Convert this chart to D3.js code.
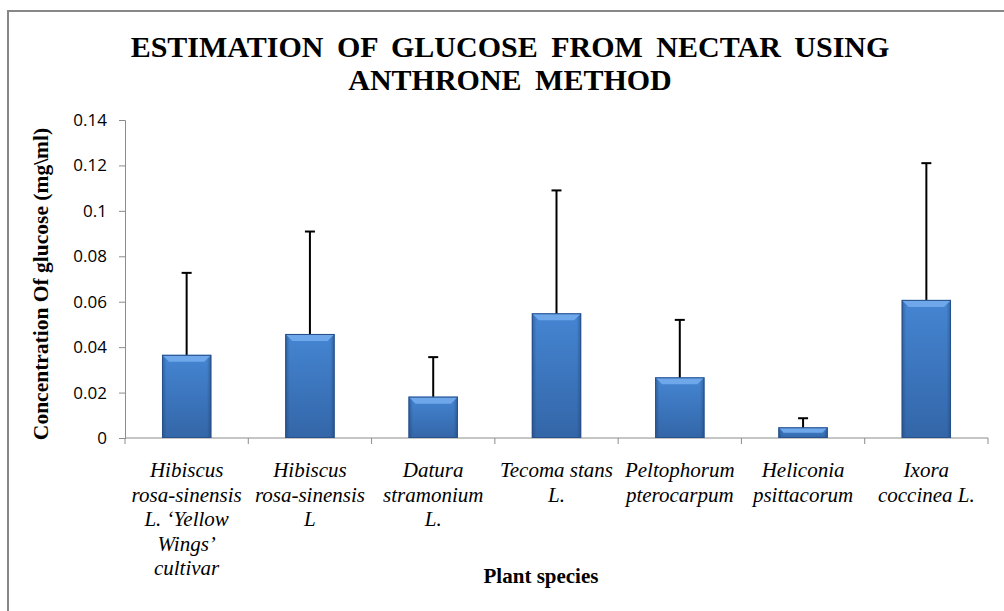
<!DOCTYPE html>
<html>
<head>
<meta charset="utf-8">
<script src="https://cdn.jsdelivr.net/npm/d3@7"></script>
<style>
  body { margin: 0; background: #fff; }
  svg { display: block; }
  .serif { font-family: "Liberation Serif", "DejaVu Serif", "Times New Roman", Times, serif; }
</style>
</head>
<body>
<svg id="chart"></svg>
<script>
// Plant species (category labels, one array entry per line)
const species = [
  ['Hibiscus', 'rosa-sinensis', 'L. \u2018Yellow', 'Wings\u2019', 'cultivar'],
  ['Hibiscus', 'rosa-sinensis', 'L'],
  ['Datura', 'stramonium', 'L.'],
  ['Tecoma stans', 'L.'],
  ['Peltophorum', 'pterocarpum'],
  ['Heliconia', 'psittacorum'],
  ['Ixora', 'coccinea L.']
];
// mean glucose concentration (mg/ml)
const glucose = [0.0366, 0.0458, 0.0182, 0.0549, 0.0267, 0.0047, 0.0608];
// standard deviation (upper error bar only)
const sd = [0.0361, 0.0451, 0.0174, 0.0541, 0.0253, 0.0040, 0.0602];
const yTicks = [0, 0.02, 0.04, 0.06, 0.08, 0.1, 0.12, 0.14];

const width = 1004, height = 611;
const margin = {top: 120, right: 16, bottom: 173, left: 125};
const w = width - margin.left - margin.right;
const h = height - margin.top - margin.bottom;

const svg = d3.select('#chart')
    .attr('width', width)
    .attr('height', height);

// outer chart-area frame (runs off the right and bottom edges)
svg.append('path')
    .attr('d', `M8,${height + 5} V11 H${width + 5}`)
    .attr('fill', 'none')
    .attr('stroke', '#878787')
    .attr('stroke-width', 2);

// bar gradient
const defs = svg.append('defs');
const grad = defs.append('linearGradient')
    .attr('id', 'barGrad').attr('x1', 0).attr('y1', 0).attr('x2', 0).attr('y2', 1);
grad.append('stop').attr('offset', '0%').attr('stop-color', '#4585d2');
grad.append('stop').attr('offset', '100%').attr('stop-color', '#3366a8');
const side = defs.append('linearGradient')
    .attr('id', 'sideGrad').attr('x1', 0).attr('y1', 0).attr('x2', 1).attr('y2', 0);
side.append('stop').attr('offset', '0%').attr('stop-color', '#1f3f6e').attr('stop-opacity', 0.5);
side.append('stop').attr('offset', '9%').attr('stop-color', '#1f3f6e').attr('stop-opacity', 0);
side.append('stop').attr('offset', '91%').attr('stop-color', '#1f3f6e').attr('stop-opacity', 0);
side.append('stop').attr('offset', '100%').attr('stop-color', '#1f3f6e').attr('stop-opacity', 0.5);

const chart = svg.append('g')
    .attr('transform', `translate(${margin.left},${margin.top})`);

const x = d3.scaleBand()
    .domain(d3.range(species.length))
    .range([0, w])
    .paddingInner(0.6)
    .paddingOuter(0.3);

const xTicks = d3.scaleBand()
    .domain(d3.range(species.length))
    .range([0, w]);

const y = d3.scaleLinear()
    .domain([0, 0.14])
    .range([h, 0]);

// y axis
const yAxis = d3.axisLeft(y)
    .tickValues(yTicks)
    .tickSize(6)
    .tickPadding(12)
    .tickFormat(d => d === 0 ? '0' : String(+d.toFixed(2)));
const yAxisG = chart.append('g').call(yAxis);
yAxisG.select('.domain').attr('stroke', '#8c8c8c');
yAxisG.selectAll('.tick line').attr('stroke', '#8c8c8c');
yAxisG.selectAll('.tick text')
    .attr('fill', '#000')
    .style('font-family', '"Open Sans", Lato, sans-serif')
    .style('font-size', '17px');

// x axis line and ticks at category boundaries
chart.append('line')
    .attr('x1', 0).attr('x2', w)
    .attr('y1', h).attr('y2', h)
    .attr('stroke', '#8c8c8c');
chart.selectAll('.xtick')
    .data(d3.range(species.length + 1))
    .join('line')
    .attr('class', 'xtick')
    .attr('x1', i => i < species.length ? xTicks(i) : w)
    .attr('x2', i => i < species.length ? xTicks(i) : w)
    .attr('y1', h).attr('y2', h + 6)
    .attr('stroke', '#8c8c8c');

// bars
const bars = chart.selectAll('.bar')
    .data(glucose)
    .join('g')
    .attr('class', 'bar');

bars.append('rect')
    .attr('x', (d, i) => x(i))
    .attr('y', d => y(d))
    .attr('width', x.bandwidth())
    .attr('height', d => h - y(d))
    .attr('fill', 'url(#barGrad)');
bars.append('rect')
    .attr('x', (d, i) => x(i))
    .attr('y', d => y(d))
    .attr('width', x.bandwidth())
    .attr('height', d => h - y(d))
    .attr('fill', 'url(#sideGrad)');
// lighter top bevel
bars.append('path')
    .attr('d', (d, i) => {
      const x0 = x(i), x1 = x(i) + x.bandwidth(), y0 = y(d);
      const b = Math.min(7, (h - y0) / 2);
      return `M${x0},${y0} H${x1} L${x1 - b},${y0 + b} H${x0 + b} Z`;
    })
    .attr('fill', '#6ea7ea');
bars.append('rect')
    .attr('x', (d, i) => x(i) + 0.5)
    .attr('y', d => y(d) + 0.5)
    .attr('width', x.bandwidth() - 1)
    .attr('height', d => h - y(d) - 1)
    .attr('fill', 'none')
    .attr('stroke', '#28508a')
    .attr('stroke-width', 1);

// error bars (plus direction)
const errs = chart.selectAll('.err')
    .data(glucose)
    .join('g')
    .attr('class', 'err')
    .attr('stroke', '#000')
    .attr('stroke-width', 2);
errs.append('line')
    .attr('x1', (d, i) => x(i) + x.bandwidth() / 2)
    .attr('x2', (d, i) => x(i) + x.bandwidth() / 2)
    .attr('y1', d => y(d))
    .attr('y2', (d, i) => y(d + sd[i]));
errs.append('line')
    .attr('x1', (d, i) => x(i) + x.bandwidth() / 2 - 5)
    .attr('x2', (d, i) => x(i) + x.bandwidth() / 2 + 5)
    .attr('y1', (d, i) => y(d + sd[i]))
    .attr('y2', (d, i) => y(d + sd[i]));

// category labels
const labels = chart.selectAll('.cat')
    .data(species)
    .join('text')
    .attr('class', 'cat serif')
    .attr('text-anchor', 'middle')
    .style('font-style', 'italic')
    .style('font-size', '21px');
labels.selectAll('tspan')
    .data((d, i) => d.map(t => ({t, i})))
    .join('tspan')
    .attr('x', d => xTicks(d.i) + xTicks.bandwidth() / 2)
    .attr('y', (d, j) => h + 39 + j * 24.5)
    .text(d => d.t);

// titles
const titleLines = ['ESTIMATION OF GLUCOSE FROM NECTAR USING', 'ANTHRONE METHOD'];
svg.selectAll('.title')
    .data(titleLines)
    .join('text')
    .attr('class', 'title serif')
    .attr('x', 510)
    .attr('y', (d, i) => 57 + i * 33)
    .attr('text-anchor', 'middle')
    .style('font-weight', 'bold')
    .style('font-size', '30px')
    .style('word-spacing', '6px')
    .text(d => d);

svg.append('text')
    .attr('class', 'serif')
    .attr('x', 541).attr('y', 583)
    .attr('text-anchor', 'middle')
    .style('font-weight', 'bold')
    .style('font-size', '21px')
    .text('Plant species');

svg.append('text')
    .attr('class', 'serif')
    .attr('transform', 'translate(48,284) rotate(-90)')
    .attr('text-anchor', 'middle')
    .style('font-weight', 'bold')
    .style('font-size', '21.5px')
    .text('Concentration Of glucose (mg\\ml)');
</script>
</body>
</html>
